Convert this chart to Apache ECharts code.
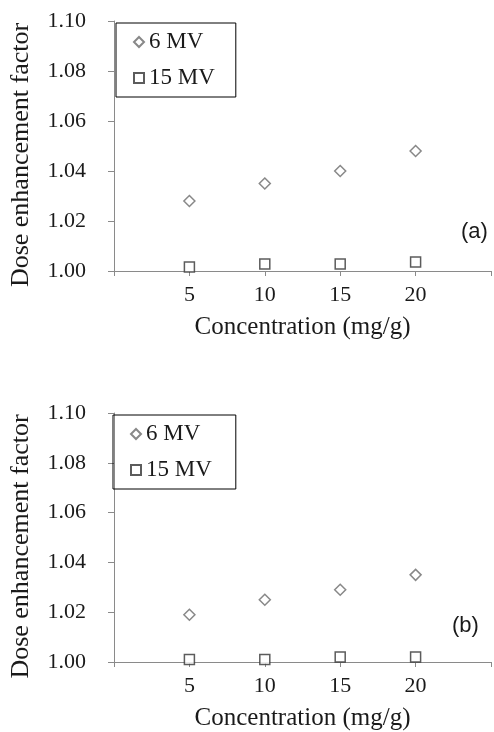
<!DOCTYPE html>
<html>
<head>
<meta charset="utf-8">
<script src="https://cdn.jsdelivr.net/npm/echarts@6/dist/echarts.min.js"></script>
<style>
  html, body { margin: 0; padding: 0; background: #fff; }
  #main { width: 494px; height: 732px; }
</style>
</head>
<body>
<div id="main"></div>
<script>
// concentration (mg/g)
var conc = [5, 10, 15, 20];
var xTicks = ['5', '10', '15', '20'];

// panel (a)
var a6MV = [1.028, 1.035, 1.040, 1.048];
var a15MV = [1.0016, 1.0028, 1.0028, 1.0036];

// panel (b)
var b6MV = [1.019, 1.025, 1.029, 1.035];
var b15MV = [1.001, 1.001, 1.002, 1.002];

var serif = '"Liberation Serif", "Times New Roman", serif';

function pairs(xs, ys) {
    return xs.map(function(x, i) { return [x, ys[i]]; });
}

var chart = echarts.init(document.getElementById('main'), null, { renderer: 'canvas' });

function xAxisFor(idx) {
    return {
        gridIndex: idx,
        type: 'value',
        min: 0, max: 25, interval: 5,
        name: 'Concentration (mg/g)',
        nameLocation: 'middle',
        nameGap: 44,
        nameTextStyle: { fontFamily: serif, fontSize: 25, color: '#1a1a1a' },
        axisLine: { lineStyle: { color: '#8a8a8a', width: 1 } },
        axisTick: { show: true, length: 5, lineStyle: { color: '#8a8a8a' } },
        axisLabel: {
            margin: 13,
            fontFamily: serif, fontSize: 22, color: '#1a1a1a',
            formatter: function(v) { return xTicks.indexOf(String(v)) >= 0 ? String(v) : ''; }
        },
        splitLine: { show: false }
    };
}

function yAxisFor(idx) {
    return {
        gridIndex: idx,
        type: 'value',
        min: 1.0, max: 1.1, interval: 0.02,
        name: 'Dose enhancement factor',
        nameLocation: 'middle',
        nameRotate: 90,
        nameGap: 80,
        nameTextStyle: { fontFamily: serif, fontSize: 26, color: '#1a1a1a', padding: [0, 18, 0, 0] },
        axisLine: { show: true, lineStyle: { color: '#8a8a8a', width: 1 } },
        axisTick: { show: true, length: 6, lineStyle: { color: '#8a8a8a' } },
        axisLabel: {
            margin: 28,
            fontFamily: serif, fontSize: 22, color: '#1a1a1a',
            formatter: function(v) { return v.toFixed(2); }
        },
        splitLine: { show: false }
    };
}

function legendFor(left, top, padRight) {
    return {
        orient: 'vertical',
        left: left, top: top,
        data: ['6 MV', '15 MV'],
        borderColor: '#000', borderWidth: 1,
        padding: [6, padRight, 6, 17],
        itemGap: 10,
        itemWidth: 10, itemHeight: 10,
        itemTextGap: 4,
        selectedMode: false,
        textStyle: { fontFamily: serif, fontSize: 23, color: '#1a1a1a', lineHeight: 26 }
    };
}

var diamondStyle = { color: '#fff', borderColor: '#6a6a6a', borderWidth: 1.5 };
var squareStyle = { color: '#fff', borderColor: '#333', borderWidth: 1.5 };

chart.setOption({
    animation: false,
    backgroundColor: '#fff',
    grid: [
        { left: 107, right: 0, top: 21, height: 250 },
        { left: 106, right: 0, top: 413, height: 249 }
    ],
    xAxis: [xAxisFor(0), xAxisFor(1)],
    yAxis: [yAxisFor(0), yAxisFor(1)],
    legend: [legendFor(116, 23, 21), legendFor(113, 415, 24)],
    graphic: [
        { type: 'text', left: 461, top: 221, style: { text: '(a)', font: '22px "Liberation Sans", Arial, sans-serif', fill: '#1a1a1a' } },
        { type: 'text', left: 452, top: 615, style: { text: '(b)', font: '22px "Liberation Sans", Arial, sans-serif', fill: '#1a1a1a' } }
    ],
    series: [
        { name: '6 MV', type: 'scatter', xAxisIndex: 0, yAxisIndex: 0, symbol: 'diamond', symbolSize: 11, itemStyle: diamondStyle, data: pairs(conc, a6MV) },
        { name: '15 MV', type: 'scatter', xAxisIndex: 0, yAxisIndex: 0, symbol: 'rect', symbolSize: 10, itemStyle: squareStyle, data: pairs(conc, a15MV) },
        { name: '6 MV', type: 'scatter', xAxisIndex: 1, yAxisIndex: 1, symbol: 'diamond', symbolSize: 11, itemStyle: diamondStyle, data: pairs(conc, b6MV) },
        { name: '15 MV', type: 'scatter', xAxisIndex: 1, yAxisIndex: 1, symbol: 'rect', symbolSize: 10, itemStyle: squareStyle, data: pairs(conc, b15MV) }
    ]
});
</script>
</body>
</html>
